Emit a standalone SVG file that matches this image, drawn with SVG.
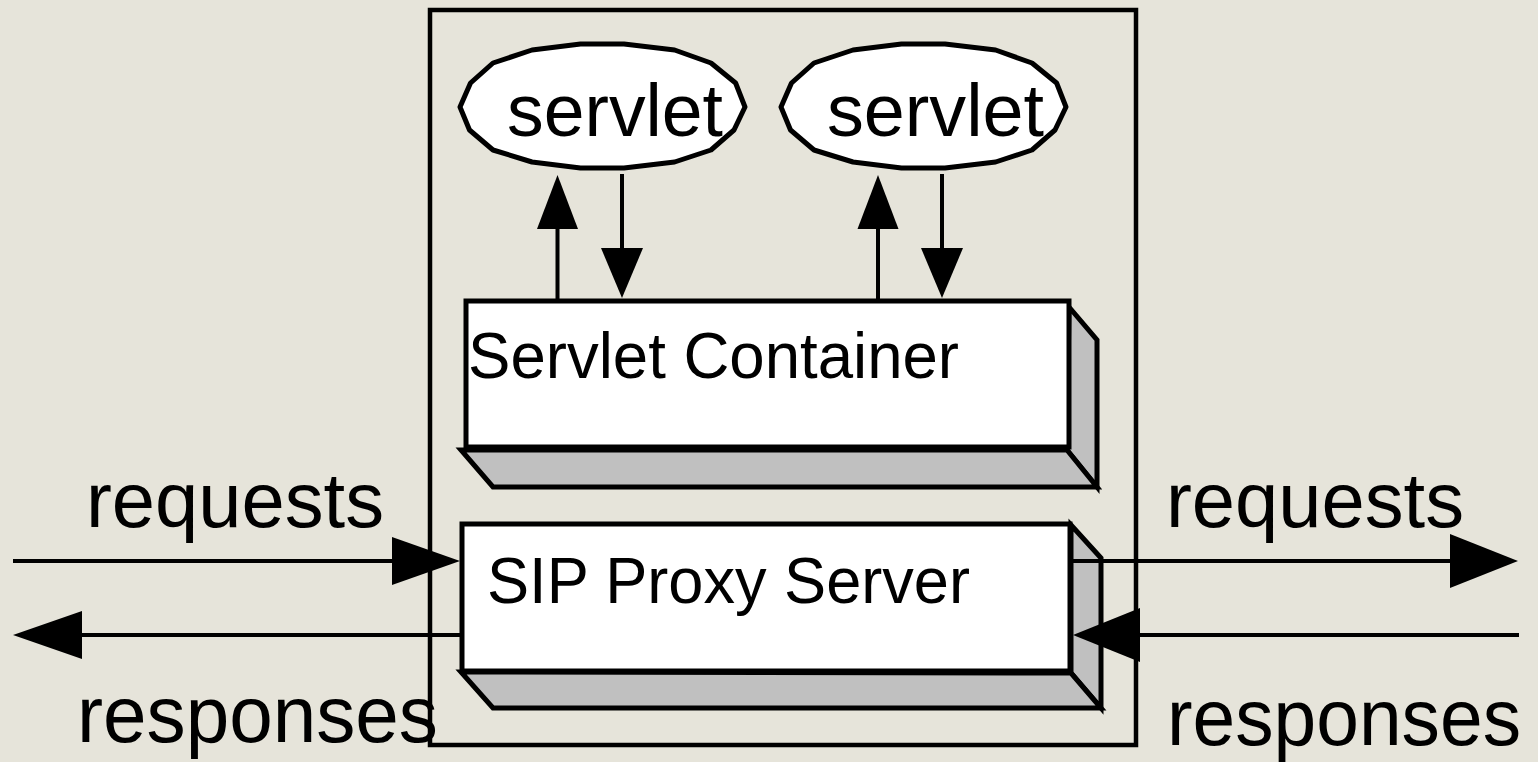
<svg xmlns="http://www.w3.org/2000/svg" width="1538" height="762" viewBox="0 0 1538 762">
<style>
.bg{fill:#e6e4da}
.frame{fill:none;stroke:#000;stroke-width:4.5}
.face{fill:#fff;stroke:#000;stroke-width:5}
.side{fill:#c0c0c0;stroke:#000;stroke-width:5;stroke-linejoin:miter}
.oval{fill:#fff;stroke:#000;stroke-width:5;stroke-linejoin:round}
.lbl{font-family:"Liberation Sans",Arial,sans-serif;fill:#000}
.ln{stroke:#000;stroke-width:4;fill:none}
.hd{fill:#000;stroke:none}
</style>
<rect class="bg" x="0" y="0" width="1538" height="762"/>
<g id="server-boundary">
<rect class="frame" x="430" y="10" width="706" height="735"/>
</g>
<g id="servlet1">
<polygon class="oval" points="460,107 469.5,130 493,150 532,162 580.5,168 624,168 674.6,162 711,150 734,130 745,107 735.6,83 711,63 674.6,50 624,44 580.5,44 532,50 493,63 470.5,83"/>
<text class="lbl" x="507" y="136" font-size="74" textLength="216" lengthAdjust="spacingAndGlyphs">servlet</text>
</g>
<g id="servlet2">
<polygon class="oval" points="781,107 790.5,130 814,150 853,162 901.5,168 945,168 995.6,162 1032,150 1055,130 1066,107 1056.6,83 1032,63 995.6,50 945,44 901.5,44 853,50 814,63 791.5,83"/>
<text class="lbl" x="827" y="136" font-size="74" textLength="217" lengthAdjust="spacingAndGlyphs">servlet</text>
</g>
<g id="servlet-container">
<polygon class="side" points="1069,307 1097,340 1097,487 1067,450"/>
<polygon class="side" points="461,450 1067,450 1097,487 493,487"/>
<rect class="face" x="466" y="301" width="603" height="146"/>
<text class="lbl" x="468" y="378" font-size="64" textLength="491" lengthAdjust="spacingAndGlyphs">Servlet Container</text>
</g>
<g id="sip-proxy">
<polygon class="side" points="1071,525 1101,558 1101,708 1071,673"/>
<polygon class="side" points="461,672 1071,673 1101,708 493,708"/>
<rect class="face" x="462" y="524" width="608" height="147"/>
<text class="lbl" x="487" y="603" font-size="64" textLength="483" lengthAdjust="spacingAndGlyphs">SIP Proxy Server</text>
</g>
<g id="labels">
<text class="lbl" x="86" y="527" font-size="78" textLength="298" lengthAdjust="spacingAndGlyphs">requests</text>
<text class="lbl" x="1166" y="527" font-size="78" textLength="298" lengthAdjust="spacingAndGlyphs">requests</text>
<text class="lbl" x="77" y="742" font-size="80" textLength="361" lengthAdjust="spacingAndGlyphs">responses</text>
<text class="lbl" x="1167" y="745" font-size="80" textLength="354" lengthAdjust="spacingAndGlyphs">responses</text>
</g>
<g id="connectors">
<line class="ln" x1="557.5" y1="302" x2="557.5" y2="225"/>
<polygon class="hd" points="557.5,175 537,229 578,229"/>
<line class="ln" x1="622" y1="174" x2="622" y2="252"/>
<polygon class="hd" points="622,298 601,248 643,248"/>
<line class="ln" x1="878" y1="302" x2="878" y2="225"/>
<polygon class="hd" points="878,175 857.5,229 898.5,229"/>
<line class="ln" x1="942" y1="174" x2="942" y2="252"/>
<polygon class="hd" points="942,298 921,248 963,248"/>
<line class="ln" x1="13" y1="561" x2="396" y2="561"/>
<polygon class="hd" points="460,561 392,537 392,585"/>
<line class="ln" x1="460" y1="635" x2="78" y2="635"/>
<polygon class="hd" points="13,635 82,611 82,659"/>
<line class="ln" x1="1072" y1="561" x2="1454" y2="561"/>
<polygon class="hd" points="1518,561 1450,534 1450,588"/>
<line class="ln" x1="1519" y1="635" x2="1136" y2="635"/>
<polygon class="hd" points="1073,635 1140,608 1140,662"/>
</g>
</svg>
